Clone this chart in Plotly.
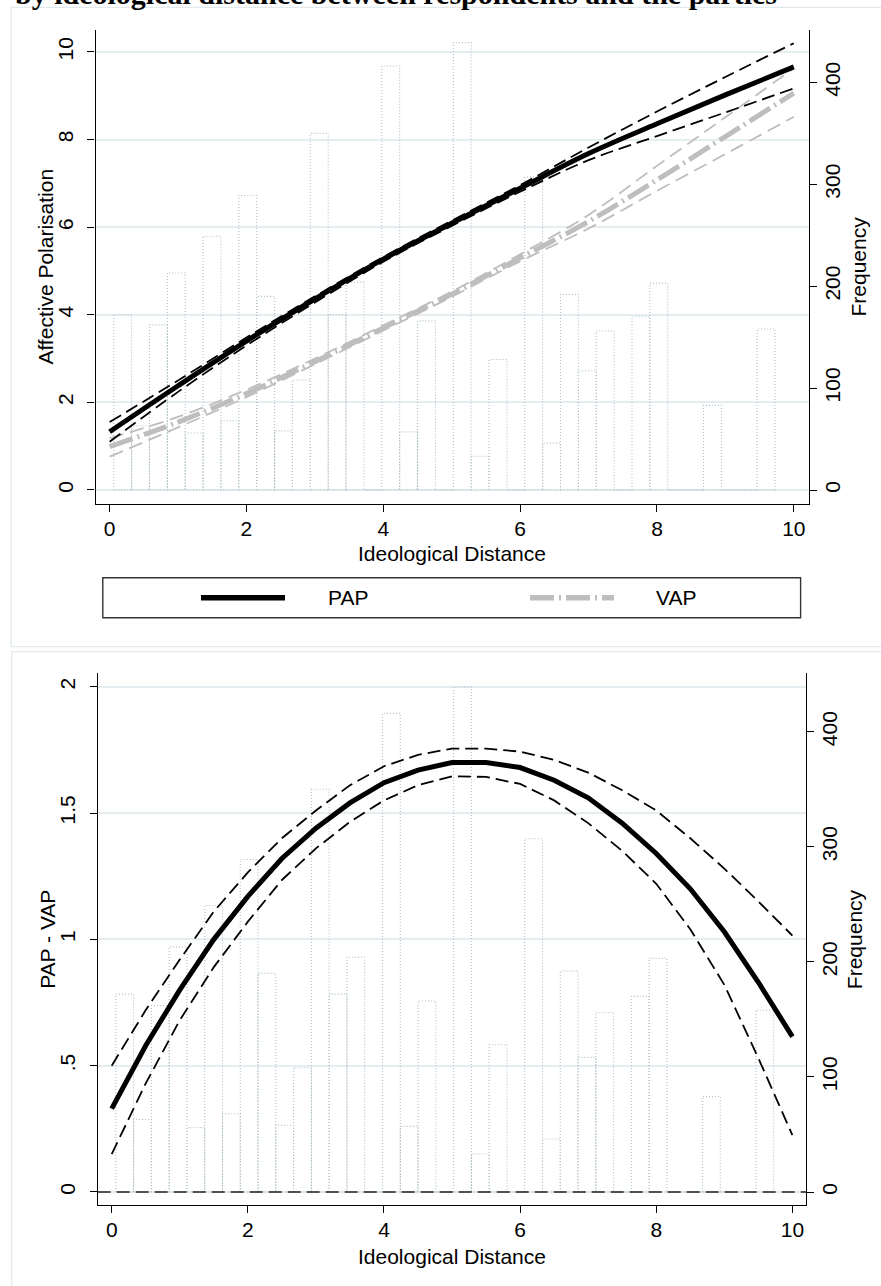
import plotly.graph_objects as go

W, H = 881, 1286

# ---------------- data ----------------
x_pred = [0, 1, 2, 3, 4, 5, 6, 7, 8, 9, 10]
pap    = [1.33, 2.38, 3.40, 4.36, 5.27, 6.09, 6.89, 7.68, 8.36, 9.02, 9.66]
pap_hi = [1.55, 2.50, 3.48, 4.42, 5.32, 6.15, 6.96, 7.82, 8.64, 9.43, 10.20]
pap_lo = [1.10, 2.24, 3.30, 4.28, 5.21, 6.03, 6.81, 7.53, 8.08, 8.62, 9.17]
vap    = [0.99, 1.55, 2.20, 2.93, 3.70, 4.47, 5.30, 6.13, 7.08, 8.07, 9.06]
vap_hi = [1.18, 1.67, 2.29, 3.00, 3.76, 4.53, 5.38, 6.28, 7.40, 8.51, 9.63]
vap_lo = [0.76, 1.43, 2.12, 2.87, 3.64, 4.41, 5.22, 5.97, 6.83, 7.67, 8.52]

x_diff  = [0, 0.5, 1, 1.5, 2, 2.5, 3, 3.5, 4, 4.5, 5, 5.5, 6, 6.5, 7, 7.5, 8, 8.5, 9, 9.5, 10]
diff    = [0.33, 0.58, 0.80, 1.00, 1.17, 1.32, 1.44, 1.54, 1.62, 1.67, 1.70,
           1.70, 1.68, 1.63, 1.56, 1.46, 1.34, 1.20, 1.03, 0.83, 0.615]
diff_hi = [0.50, 0.72, 0.92, 1.11, 1.265, 1.40, 1.51, 1.61, 1.685, 1.73, 1.755,
           1.755, 1.743, 1.71, 1.66, 1.59, 1.51, 1.40, 1.28, 1.15, 1.015]
diff_lo = [0.15, 0.43, 0.68, 0.89, 1.07, 1.235, 1.36, 1.465, 1.55, 1.61, 1.645,
           1.643, 1.615, 1.55, 1.46, 1.35, 1.22, 1.04, 0.82, 0.53, 0.225]

hist_start = 0.06
hist_width = 0.2612
hist_freq = [172, 63, 162, 213, 56, 249, 68, 289, 190, 58, 108, 350, 172, 204, 0,
             416, 57, 166, 0, 439, 33, 128, 0, 307, 46, 192, 117, 156, 0, 170,
             203, 0, 0, 83, 0, 0, 158]

top_left_ticks = [0, 2, 4, 6, 8, 10]
freq_ticks = [0, 100, 200, 300, 400]
bot_left_ticks = [0, 0.5, 1, 1.5, 2]
bot_left_text = ["0", ".5", "1", "1.5", "2"]
x_ticks = [0, 2, 4, 6, 8, 10]

title_text = "by ideological distance between respondents and the parties"

# ---------------- helpers ----------------
def px(v):
    return v / W

def py(v):
    return 1 - v / H

FONT = "Liberation Sans, Arial, sans-serif"
BLACK = "#000000"
GRAY = "#bebebe"
HISTC = "#afc0c5"
GRID = "#e6edf0"
CI_DASH = "13px,6px"
VAP_DASH = "24px,5px,2px,5px"

# histogram outline paths
hx, hy = [], []
for i, f in enumerate(hist_freq):
    l = hist_start + i * hist_width
    r = l + hist_width
    hx += [l, l, r, r, l, None]
    hy += [0, f, f, 0, 0, None]

fig = go.Figure()

# ---- top panel ----
fig.add_trace(go.Scatter(x=hx, y=hy, mode="lines", xaxis="x", yaxis="y2",
                         line=dict(color=HISTC, width=1.1, dash="1px,2px"),
                         hoverinfo="skip", showlegend=False))
for arr in (vap_hi, vap_lo):
    fig.add_trace(go.Scatter(x=x_pred, y=arr, mode="lines", xaxis="x", yaxis="y",
                             line=dict(color=GRAY, width=1.8, dash="14px,7px", shape="spline"),
                             showlegend=False))
fig.add_trace(go.Scatter(x=x_pred, y=vap, mode="lines", xaxis="x", yaxis="y",
                         line=dict(color=GRAY, width=5, dash=VAP_DASH, shape="spline"),
                         showlegend=False))
for arr in (pap_hi, pap_lo):
    fig.add_trace(go.Scatter(x=x_pred, y=arr, mode="lines", xaxis="x", yaxis="y",
                             line=dict(color=BLACK, width=1.8, dash=CI_DASH, shape="spline"),
                             showlegend=False))
fig.add_trace(go.Scatter(x=x_pred, y=pap, mode="lines", xaxis="x", yaxis="y",
                         line=dict(color=BLACK, width=5, shape="spline"),
                         showlegend=False))

# ---- bottom panel ----
fig.add_trace(go.Scatter(x=hx, y=hy, mode="lines", xaxis="x2", yaxis="y4",
                         line=dict(color=HISTC, width=1.1, dash="1px,2px"),
                         hoverinfo="skip", showlegend=False))
for arr in (diff_hi, diff_lo):
    fig.add_trace(go.Scatter(x=x_diff, y=arr, mode="lines", xaxis="x2", yaxis="y3",
                             line=dict(color=BLACK, width=1.8, dash=CI_DASH),
                             showlegend=False))
fig.add_trace(go.Scatter(x=x_diff, y=diff, mode="lines", xaxis="x2", yaxis="y3",
                         line=dict(color=BLACK, width=5),
                         showlegend=False))

axis_common = dict(showline=True, linecolor=BLACK, linewidth=1.3, ticks="outside",
                   ticklen=7, tickwidth=1.3, tickcolor=BLACK, zeroline=False,
                   tickfont=dict(family=FONT, size=21, color=BLACK))

top_y0, top_y1 = 30, 504
bot_y0, bot_y1 = 673.3, 1205

fig.update_layout(
    width=W, height=H,
    margin=dict(l=0, r=0, t=0, b=0),
    paper_bgcolor="white", plot_bgcolor="rgba(0,0,0,0)",
    showlegend=False,
    xaxis=dict(domain=[px(95.6), px(809)], range=[-0.205, 10.222], anchor="y2",
               tickvals=x_ticks, showgrid=False, ticklabelstandoff=-1, **axis_common),
    yaxis2=dict(domain=[py(top_y1), py(top_y0)], range=[-13.74, 451.4], side="right",
                anchor="x", tickvals=freq_ticks, tickangle=-90, showgrid=False,
                ticklabelstandoff=-2, **axis_common),
    yaxis=dict(overlaying="y2", side="left", anchor="x", range=[-0.32, 10.502],
               tickvals=top_left_ticks, tickangle=-90, showgrid=True, gridcolor=GRID,
               gridwidth=1.5, ticklabelstandoff=6, **axis_common),
    xaxis2=dict(domain=[px(97.7), px(806)], range=[-0.206, 10.2], anchor="y4",
                tickvals=x_ticks, showgrid=False, ticklabelstandoff=-1, **axis_common),
    yaxis4=dict(domain=[py(bot_y1), py(bot_y0)], range=[-11.3, 450.8], side="right",
                anchor="x2", tickvals=freq_ticks, tickangle=-90, showgrid=False,
                ticklabelstandoff=-2, **axis_common),
    yaxis3=dict(overlaying="y4", side="left", anchor="x2", range=[-0.0515, 2.053],
                tickvals=bot_left_ticks, ticktext=bot_left_text, tickangle=-90,
                showgrid=True, gridcolor=GRID, gridwidth=1.5, ticklabelstandoff=6,
                **axis_common),
)

shapes = [
    # graph region outlines
    dict(type="rect", xref="paper", yref="paper", x0=px(11.2), x1=px(895),
         y0=py(646.7), y1=py(7.3), line=dict(color="#e2eaed", width=1.3), layer="below"),
    dict(type="rect", xref="paper", yref="paper", x0=px(11.7), x1=px(895),
         y0=py(1300), y1=py(651.7), line=dict(color="#e2eaed", width=1.3), layer="below"),
    # zero reference line in bottom panel
    dict(type="line", xref="x2 domain", yref="y3", x0=0, x1=1, y0=0, y1=0,
         line=dict(color="#222222", width=1.5, dash=CI_DASH)),
    # legend box
    dict(type="rect", xref="paper", yref="paper", x0=px(102.8), x1=px(800.6),
         y0=py(617.7), y1=py(577.7), line=dict(color="#333333", width=1.4)),
    dict(type="line", xref="paper", yref="paper", x0=px(201), x1=px(285),
         y0=py(597.7), y1=py(597.7), line=dict(color=BLACK, width=5.5)),
    dict(type="line", xref="paper", yref="paper", x0=px(530), x1=px(614),
         y0=py(597.7), y1=py(597.7), line=dict(color=GRAY, width=5.5, dash=VAP_DASH)),
]

annos = [
    dict(text="Affective Polarisation", x=px(44.6), y=py((top_y0 + top_y1) / 2),
         textangle=-90),
    dict(text="Frequency", x=px(857.5), y=py((top_y0 + top_y1) / 2), textangle=-90),
    dict(text="Ideological Distance", x=px(452), y=py(553.3)),
    dict(text="PAP - VAP", x=px(46.7), y=py((bot_y0 + bot_y1) / 2), textangle=-90),
    dict(text="Frequency", x=px(854), y=py((bot_y0 + bot_y1) / 2), textangle=-90),
    dict(text="Ideological Distance", x=px(452), y=py(1256.7)),
    dict(text="PAP", x=px(326), y=py(597.7), xanchor="left"),
    dict(text="VAP", x=px(654), y=py(597.7), xanchor="left"),
]
annotations = []
for a in annos:
    d = dict(xref="paper", yref="paper", showarrow=False,
             font=dict(family=FONT, size=21, color=BLACK),
             xanchor=a.get("xanchor", "center"), yanchor="middle")
    d.update({k: v for k, v in a.items() if k != "xanchor"})
    annotations.append(d)

annotations.append(dict(
    text="<b>" + title_text + "</b>", xref="paper", yref="paper",
    x=px(14), y=py(11), xanchor="left", yanchor="bottom", showarrow=False,
    borderpad=0, font=dict(family="Liberation Serif, Times New Roman, serif",
                           size=30, color=BLACK)))

fig.update_layout(shapes=shapes, annotations=annotations)

fig.write_html("out.html", config={"displayModeBar": False},
               post_script="document.body.style.margin='0';document.body.style.padding='0';")
